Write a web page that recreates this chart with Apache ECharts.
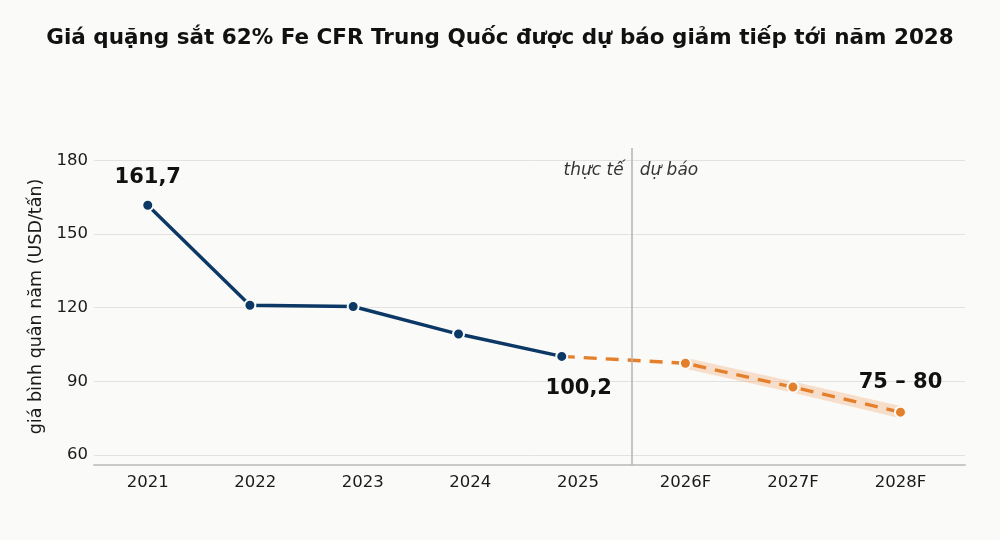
<!DOCTYPE html>
<html>
<head>
<meta charset="utf-8">
<script src="https://cdn.jsdelivr.net/npm/echarts@6/dist/echarts.min.js"></script>
<style>
  html, body { margin: 0; padding: 0; background: #fafaf8; }
  #chart { width: 1000px; height: 540px; }
</style>
</head>
<body>
<div id="chart"></div>
<script>
// tick labels on the x axis
let years = ['2021', '2022', '2023', '2024', '2025', '2026F', '2027F', '2028F']
let yTicks = [60, 90, 120, 150, 180]

// actual prices (x = position on the year axis)
let actualX = [0, 0.95, 1.91, 2.89, 3.85]
let actualY = [161.7, 121.0, 120.5, 109.3, 100.2]

// forecast, starting from the last actual point
let forecastX = [3.85, 5, 6, 7]
let forecastY = [100.2, 97.4, 87.7, 77.5]

// forecast range band
let bandX = [5, 6, 7]
let bandLow = [95.2, 85.4, 75]
let bandHigh = [99.6, 90, 80]

let splitX = 4.5

function pairs(xs, ys) {
    let out = []
    for (let i = 0; i < xs.length; i++) {
        out.push([xs[i], ys[i]])
    }
    return out
}

let actualData = pairs(actualX, actualY)
actualData[0] = {value: actualData[0], label: {show: true, position: 'top', distance: 11, formatter: '161,7'}}
actualData[4] = {value: actualData[4], label: {show: true, position: 'bottom', distance: 14, offset: [17, 1], formatter: '100,2'}}

let forecastData = pairs(forecastX, forecastY)
forecastData[0] = {value: forecastData[0], symbol: 'none'}
forecastData[3] = {value: forecastData[3], label: {show: true, position: 'top', distance: 13, formatter: '75 – 80'}}

// band polygon: low edge forwards, high edge backwards
let bandPoly = pairs(bandX, bandLow).concat(pairs(bandX, bandHigh).reverse())

const font = 'DejaVu Sans'
const navy = '#0c3866'
const orange = '#e47f2c'

let option = {
    backgroundColor: '#fafaf8',
    animation: false,
    title: {
        text: 'Giá quặng sắt 62% Fe CFR Trung Quốc được dự báo giảm tiếp tới năm 2028',
        left: 'center',
        top: 22,
        textStyle: {fontFamily: font, fontSize: 21.5, fontWeight: 'bold', color: '#111'}
    },
    grid: {left: 94, right: 35, top: 148, bottom: 75},
    xAxis: {
        type: 'value',
        min: -0.5,
        max: 7.6,
        axisLine: {show: true, onZero: false, lineStyle: {color: '#c9c9c9', width: 2}},
        axisTick: {show: false},
        splitLine: {show: false},
        axisLabel: {
            customValues: [0, 1, 2, 3, 4, 5, 6, 7],
            margin: 9,
            fontFamily: font,
            fontSize: 16.5,
            color: '#1a1a1a',
            formatter: function (v) { return years[Math.round(v)] }
        }
    },
    yAxis: {
        type: 'value',
        min: 56,
        max: 185,
        name: 'giá bình quân năm (USD/tấn)',
        nameLocation: 'middle',
        nameGap: 49,
        nameTextStyle: {fontFamily: font, fontSize: 17.5, color: '#1a1a1a'},
        axisLine: {show: false},
        axisTick: {show: false, customValues: yTicks},
        axisLabel: {customValues: yTicks, margin: 6, fontFamily: font, fontSize: 16.5, color: '#1a1a1a'},
        splitLine: {show: true, lineStyle: {color: '#e2e2e0', width: 1}}
    },
    series: [
        {
            name: 'band',
            type: 'custom',
            silent: true,
            data: [0],
            renderItem: function (params, api) {
                let pts = bandPoly.map(function (p) { return api.coord(p) })
                return {
                    type: 'polygon',
                    shape: {points: pts},
                    style: {fill: 'rgba(242, 160, 95, 0.3)'}
                }
            },
            z: 1
        },
        {
            name: 'divider',
            type: 'scatter',
            data: [[splitX, 176]],
            symbolSize: 0,
            label: {
                show: true,
                position: 'left',
                distance: 8,
                formatter: 'thực tế',
                fontFamily: font,
                fontStyle: 'italic',
                fontSize: 17,
                color: '#000'
            },
            markLine: {
                symbol: 'none',
                silent: true,
                label: {show: false},
                lineStyle: {color: '#b3b3b3', type: 'solid', width: 1.5},
                data: [{xAxis: splitX}]
            }
        },
        {
            name: 'divider-right',
            type: 'scatter',
            data: [[splitX, 176]],
            symbolSize: 0,
            label: {
                show: true,
                position: 'right',
                distance: 8,
                formatter: 'dự báo',
                fontFamily: font,
                fontStyle: 'italic',
                fontSize: 17,
                color: '#000'
            }
        },
        {
            name: 'forecast',
            type: 'line',
            data: forecastData,
            symbol: 'circle',
            symbolSize: 11,
            lineStyle: {color: orange, width: 3.4, type: [13, 9]},
            itemStyle: {color: orange, borderColor: '#fafaf8', borderWidth: 2},
            label: {fontFamily: font, fontSize: 21, fontWeight: 'bold', color: '#111'},
            z: 3
        },
        {
            name: 'actual',
            type: 'line',
            data: actualData,
            symbol: 'circle',
            symbolSize: 11,
            lineStyle: {color: navy, width: 3.4},
            itemStyle: {color: navy, borderColor: '#fafaf8', borderWidth: 2},
            label: {fontFamily: font, fontSize: 21, fontWeight: 'bold', color: '#111'},
            z: 4
        }
    ]
}

const myChart = echarts.init(document.getElementById('chart'))
myChart.setOption(option, true)
</script>
</body>
</html>
